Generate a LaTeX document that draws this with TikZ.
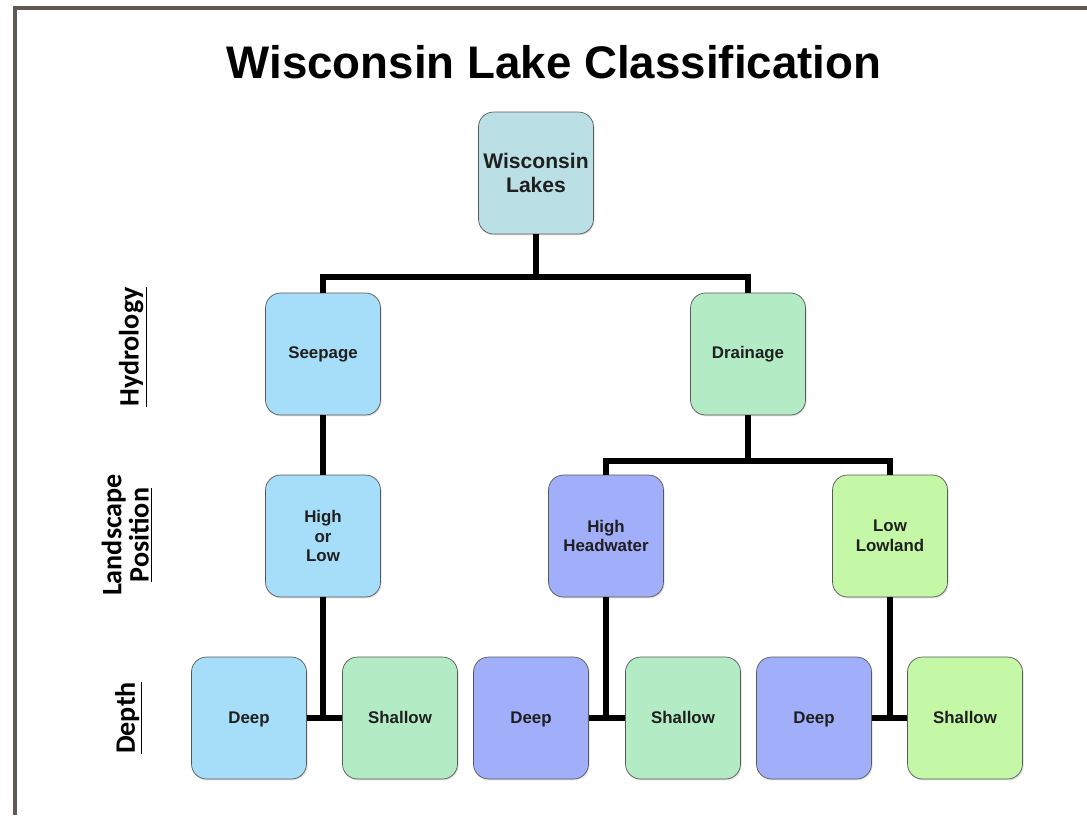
\documentclass[tikz,border=0pt]{standalone}
\usepackage{fontspec}
\setmainfont{Liberation Sans}
\newfontfamily\lblfont{Carlito}
\usetikzlibrary{shadows}
\definecolor{rootfill}{HTML}{BAE0E5}
\definecolor{seepfill}{HTML}{A6DDF9}
\definecolor{drainfill}{HTML}{B3EBC5}
\definecolor{headfill}{HTML}{A1AEFA}
\definecolor{lowfill}{HTML}{C4F8A6}
\definecolor{framegray}{HTML}{5F5A55}

\begin{document}
\begin{tikzpicture}[x=0.02cm,y=-0.02cm,
  box/.style={draw=black!65,rounded corners=0.3cm,minimum width=2.3cm,minimum height=2.44cm,
    inner sep=1pt,align=center,text=black!88,
    font=\bfseries\fontsize{9.6}{11.3}\selectfont,
    drop shadow={shadow xshift=0.6pt,shadow yshift=-0.8pt,opacity=0.25}},
  leaf/.style={box,text height=1.6ex,text depth=0.4ex},
  tie/.style={line width=3.1pt},
  lvl/.style={rotate=90,align=center,font=\lblfont\bfseries\fontsize{16}{15.5}\selectfont}]
\useasboundingbox (0,0) rectangle (1087,815);
\draw[framegray,line width=1.9pt] (1087,8) -- (15,8) -- (15,815);

\node (title) at (554,62) {\bfseries\fontsize{26}{30}\selectfont Wisconsin Lake Classification};

% level labels
\node[lvl] (hydro) at (133,347) {\underline{Hydrology}};
\node[lvl] (land) at (127,535) {Landscape\\\underline{Position}};
\node[lvl] (depth) at (129,718) {\underline{Depth}};

% boxes
\node[box,fill=rootfill,font=\bfseries\fontsize{12}{13.6}\selectfont] (root) at (536,173) {Wisconsin\\Lakes};
\node[box,fill=seepfill] (seep) at (323,354) {Seepage};
\node[box,fill=drainfill] (drain) at (748,354) {Drainage};
\node[box,fill=seepfill] (hol) at (323,536) {High\\or\\Low};
\node[box,fill=headfill] (head) at (606,536) {High\\Headwater};
\node[box,fill=lowfill] (low) at (890,536) {Low\\Lowland};
\node[leaf,fill=seepfill] (deepA) at (249,718) {Deep};
\node[leaf,fill=drainfill] (shalA) at (400,718) {Shallow};
\node[leaf,fill=headfill] (deepB) at (531,718) {Deep};
\node[leaf,fill=drainfill] (shalB) at (683,718) {Shallow};
\node[leaf,fill=headfill] (deepC) at (814,718) {Deep};
\node[leaf,fill=lowfill] (shalC) at (965,718) {Shallow};

% connectors
\coordinate (hyd) at (536,277);
\coordinate (lnd) at (748,461);
\draw[tie] (root.south) -- (hyd);
\draw[tie] (seep.north) |- (hyd) -| (drain.north);
\draw[tie] (seep.south) -- (hol.north);
\draw[tie] (drain.south) -- (lnd);
\draw[tie] (head.north) |- (lnd) -| (low.north);
\draw[tie] (hol.south) -- (hol.south |- deepA.east);
\draw[tie] (deepA.east) -- (shalA.west);
\draw[tie] (head.south) -- (head.south |- deepB.east);
\draw[tie] (deepB.east) -- (shalB.west);
\draw[tie] (low.south) -- (low.south |- deepC.east);
\draw[tie] (deepC.east) -- (shalC.west);
\end{tikzpicture}
\end{document}
